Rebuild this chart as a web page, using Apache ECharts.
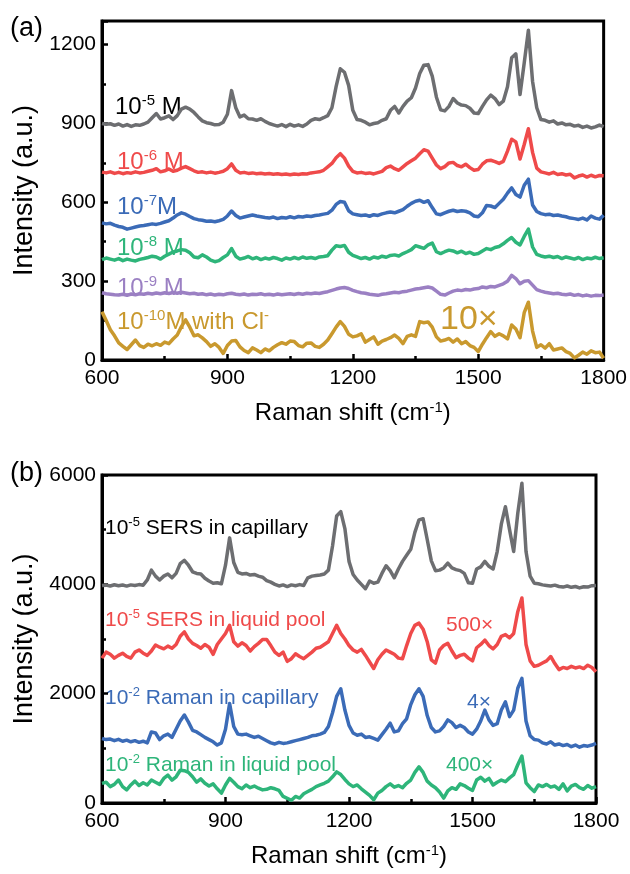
<!DOCTYPE html>
<html>
<head>
<meta charset="utf-8">
<script src="https://cdn.jsdelivr.net/npm/echarts@6/dist/echarts.min.js"></script>
<style>
  html, body { margin: 0; padding: 0; background: #fff; }
  #chart { width: 630px; height: 874px; }
</style>
</head>
<body>
<div id="chart"></div>
<script>
var FONT = "'Liberation Sans', Arial, sans-serif";

// Raman shift (cm-1), shared by both panels
var shift = [600,610,620,630,640,650,660,670,680,690,700,710,720,730,740,750,760,770,780,790,
  800,810,820,830,840,850,860,870,880,890,900,910,920,930,940,950,960,970,980,990,
  1000,1010,1020,1030,1040,1050,1060,1070,1080,1090,1100,1110,1120,1130,1140,1150,1160,1170,1180,1190,
  1200,1210,1220,1230,1240,1250,1260,1270,1280,1290,1300,1310,1320,1330,1340,1350,1360,1370,1380,1390,
  1400,1410,1420,1430,1440,1450,1460,1470,1480,1490,1500,1510,1520,1530,1540,1550,1560,1570,1580,1590,
  1600,1610,1620,1630,1640,1650,1660,1670,1680,1690,1700,1710,1720,1730,1740,1750,1760,1770,1780,1790,1800];

// panel (a)
var a1e5 = [900,897,899,893,898,890,896,889,895,893, 898,905,922,938,917,922,929,915,930,955,
  962,955,942,925,910,903,900,895,896,905, 935,1025,960,925,932,918,917,912,918,908,
  900,895,890,896,888,897,890,895,889,898, 912,918,915,922,930,960,1040,1108,1095,1045,
  950,915,912,905,895,900,903,912,918,950, 965,940,965,985,998,1035,1090,1122,1124,1080,
  1000,952,948,965,995,978,970,968,958,940, 938,965,990,1008,995,972,985,1040,1150,1165,
  1010,1130,1255,1060,960,915,912,905,910,898, 902,895,897,890,893,885,890,883,887,894, 888];
var a1e6 = [715,712,716,710,714,709,713,711,716,712, 714,718,722,728,716,720,727,718,722,730,
  736,728,720,714,716,712,715,711,714,718, 728,746,722,712,714,710,712,709,711,708,
  710,707,709,706,708,705,708,706,709,708, 712,714,716,722,735,748,770,785,768,738,
  718,712,714,710,712,708,713,718,732,738, 728,722,735,748,758,768,785,800,795,768,
  742,728,736,750,752,740,735,745,732,722, 725,745,758,760,755,748,756,795,840,830,
  765,820,880,790,730,716,712,708,714,706, 709,704,707,693,700,704,696,703,697,702, 701];
var a1e7 = [522,518,520,513,508,505,498,502,506,510, 512,515,518,516,520,525,530,540,552,560,
  555,546,538,534,532,528,529,526,530,535, 548,567,550,540,544,548,552,548,545,542,
  540,544,538,542,540,545,541,546,544,548, 546,550,552,555,558,570,592,603,600,568,
  556,553,550,552,547,553,550,556,560,563, 560,566,572,585,596,604,608,600,606,580,
  556,553,560,566,570,565,568,566,560,548, 545,560,588,586,580,596,612,635,655,630,
  620,665,688,590,565,557,553,555,550,552, 548,545,540,538,535,540,533,548,540,536, 551];
var a1e8 = [382,388,384,380,386,378,384,380,377,383, 386,390,395,392,384,395,403,411,415,420,
  418,408,392,389,400,392,380,374,378,390, 400,424,395,384,388,394,385,390,382,388,
  384,390,386,380,388,384,390,385,392,387, 390,386,392,394,397,418,435,432,436,410,
  398,392,386,390,384,392,388,395,391,398, 400,396,405,412,420,435,430,425,438,445,
  412,405,412,418,415,408,414,405,410,402, 405,415,424,420,428,432,442,455,466,448,
  438,470,498,430,402,396,392,395,390,394, 386,392,388,384,390,382,388,385,391,386, 389];
var a1e9 = [256,252,250,248,247,250,246,251,248,252, 250,254,251,255,252,256,253,257,254,258,
  255,252,254,250,252,248,251,247,250,248, 252,254,250,248,251,247,250,249,252,248,
  250,247,251,248,250,252,249,253,250,254, 252,255,253,257,260,265,270,274,276,272,
  265,260,256,254,250,248,246,250,252,255, 258,256,260,262,266,270,272,275,278,274,
  262,250,247,255,262,266,264,268,266,270, 272,278,275,280,278,284,290,300,322,310,
  290,300,302,285,268,262,258,255,252,254, 250,248,251,246,249,244,247,243,246,245, 247];
var a1e10 = [184,150,115,92,65,52,40,58,76,55, 48,60,54,62,56,68,62,80,95,127,
  153,125,92,96,84,70,52,62,48,25, 55,72,74,50,36,28,46,38,28,42,
  35,48,58,66,60,72,70,55,50,64, 65,52,48,60,76,100,125,146,128,98,
  88,92,100,68,78,88,60,72,78,85, 95,82,62,90,96,90,146,142,145,125,
  88,72,76,82,68,80,62,70,55,48, 32,60,85,108,90,100,92,80,133,118,
  85,180,220,110,48,58,45,62,38,42, 46,32,25,8,18,30,22,35,28,30, 7];

// panel (b)
var sersCap = [3980,3985,3970,3992,3975,3988,3968,3990,3978,3995, 3985,4080,4260,4150,4080,4150,4190,4120,4200,4380,
  4440,4350,4230,4200,4190,4110,4060,4020,4030,4010, 4350,4850,4400,4220,4190,4200,4170,4180,4150,4130,
  4070,4040,4000,3970,3990,3960,3990,3975,3995,3980, 4120,4150,4160,4170,4190,4260,4700,5250,5330,5020,
  4420,4180,4080,4000,3920,4060,4020,4040,4200,4340, 4250,4120,4280,4420,4530,4640,4950,5180,5200,4820,
  4430,4250,4260,4300,4390,4300,4270,4250,4200,4030, 4020,4280,4320,4420,4330,4280,4600,5100,5420,5000,
  4600,5300,5850,4600,4150,4020,4010,3990,3980,3970, 3985,3960,3950,3970,3945,3960,3935,3955,3950,3975, 3980];
var sersPool = [2650,2760,2720,2650,2700,2740,2680,2650,2760,2800, 2740,2700,2780,2890,2850,2820,2870,2830,2900,3050,
  3130,3000,2920,2880,2830,2900,2850,2720,2900,3000, 3100,3250,2950,2870,2930,2880,2780,2860,2920,2990,
  2990,2880,2760,2700,2760,2590,2640,2730,2680,2640, 2700,2760,2830,2850,2900,2950,3100,3250,3100,3000,
  2880,2800,2760,2810,2700,2580,2460,2620,2720,2800, 2760,2720,2650,2640,2880,3100,3250,3290,3180,2950,
  2620,2560,2800,2880,2920,2780,2660,2700,2720,2650, 2600,2840,2900,2980,2880,2820,2900,3050,3080,3020,
  3100,3500,3750,2900,2600,2500,2520,2560,2600,2680, 2550,2440,2480,2460,2500,2470,2490,2460,2520,2480, 2400];
var ramanCap = [1180,1160,1170,1140,1165,1130,1150,1120,1140,1110, 1130,1100,1300,1280,1160,1230,1260,1200,1350,1500,
  1610,1480,1330,1300,1250,1200,1160,1120,1060,1100, 1350,1820,1400,1260,1250,1260,1230,1200,1220,1180,
  1140,1100,1080,1110,1090,1100,1120,1140,1160,1180, 1200,1230,1240,1260,1290,1400,1650,1950,2090,1700,
  1420,1280,1240,1260,1200,1210,1180,1150,1250,1350, 1460,1300,1320,1450,1540,1800,1980,2090,1950,1600,
  1380,1300,1320,1400,1520,1470,1380,1420,1380,1300, 1260,1350,1500,1700,1520,1420,1450,1700,1850,1580,
  1700,2100,2280,1500,1230,1160,1150,1100,1080,1120, 1060,1080,1050,1070,1030,1060,1020,1050,1040,1060, 1090];
var ramanPool = [360,380,300,340,420,300,240,330,400,320, 370,330,420,380,340,450,510,420,480,600,
  590,560,480,380,440,360,310,350,260,180, 330,450,380,300,260,330,280,310,270,240,
  250,280,260,230,120,85,50,120,90,170, 210,250,300,330,360,400,480,570,520,430,
  350,300,330,260,200,140,60,180,230,300, 350,290,320,280,360,420,560,660,560,400,
  330,280,200,90,220,280,250,350,320,270, 230,420,470,400,450,330,380,420,390,460,
  520,700,860,370,280,210,330,300,340,290, 310,250,350,220,310,340,280,250,320,270, 300];

var labelsA = ['10{s|-5} M', '10{s|-6} M', '10{s|-7}M', '10{s|-8} M', '10{s|-9} M', '10{s|-10}M with Cl{s|-}'];
var labelsB = ['10{s|-5} SERS in capillary', '10{s|-5} SERS in liquid pool', '10{s|-2} Raman in capillary', '10{s|-2} Raman in liquid pool'];
var factorsB = ['500×', '4×', '400×'];

var GRAY = '#6d6e71', RED = '#ef4a4a', BLUE = '#3b6bb7', GREEN = '#2eb57a', PURPLE = '#9b80c3', GOLD = '#c9992e';

var chart = echarts.init(document.getElementById('chart'));

function line(ys, color, idx) {
  return {
    type: 'line',
    xAxisIndex: idx,
    yAxisIndex: idx,
    data: shift.map(function (x, i) { return [x, ys[i]]; }),
    showSymbol: false,
    silent: true,
    lineStyle: { width: 3.5, color: color, join: 'round' },
    itemStyle: { color: color }
  };
}

function plain(v) { return String(v); }

function xAxis(idx) {
  return {
    type: 'value', gridIndex: idx, min: 600, max: 1800, interval: 300,
    axisLine: { lineStyle: { color: '#000', width: 3 } },
    axisTick: { inside: true, length: 6, lineStyle: { width: 2.5, color: '#000' } },
    minorTick: { show: true, splitNumber: 2, length: 4, lineStyle: { width: 2.5, color: '#000' } },
    splitLine: { show: false },
    axisLabel: { fontSize: 21, color: '#000', fontFamily: FONT, margin: 8, formatter: plain },
    name: 'Raman shift (cm{s|-1})',
    nameLocation: 'middle', nameGap: 40,
    nameTextStyle: { fontSize: 24, color: '#000', fontFamily: FONT,
      rich: { s: { fontSize: 15, fontFamily: FONT, padding: [0, 0, 12, 0] } } }
  };
}

function yAxis(idx, max, interval) {
  return {
    type: 'value', gridIndex: idx, min: 0, max: max, interval: interval,
    axisLine: { lineStyle: { color: '#000', width: 3 } },
    axisTick: { inside: true, length: 6, lineStyle: { width: 2.5, color: '#000' } },
    minorTick: { show: true, splitNumber: 2, length: 4, lineStyle: { width: 2.5, color: '#000' } },
    splitLine: { show: false },
    axisLabel: { fontSize: 21, color: '#000', fontFamily: FONT, margin: 6, formatter: plain,
      showMaxLabel: max % interval === 0 },
    name: 'Intensity (a.u.)',
    nameLocation: 'middle', nameGap: 52,
    nameTextStyle: { fontSize: 27, color: '#000', fontFamily: FONT }
  };
}

function label(text, x, y, color, size) {
  return {
    type: 'text', x: x, y: y, silent: true,
    style: {
      text: text, fill: color, fontSize: size, fontFamily: FONT, verticalAlign: 'middle',
      rich: { s: { fontSize: Math.round(size * 0.62), fontFamily: FONT, fill: color, padding: [0, 0, Math.round(size * 0.5), 0] } }
    }
  };
}

var option = {
  animation: false,
  grid: [
    { left: 102, top: 21, width: 504, height: 339, show: true, borderColor: '#000', borderWidth: 3 },
    { left: 102, top: 475, width: 494, height: 328, show: true, borderColor: '#000', borderWidth: 3 }
  ],
  xAxis: [xAxis(0), xAxis(1)],
  yAxis: [yAxis(0, 1290, 300), yAxis(1, 6000, 2000)],
  series: [
    line(a1e10, GOLD, 0), line(a1e9, PURPLE, 0), line(a1e8, GREEN, 0),
    line(a1e7, BLUE, 0), line(a1e6, RED, 0), line(a1e5, GRAY, 0),
    line(ramanPool, GREEN, 1), line(ramanCap, BLUE, 1), line(sersPool, RED, 1), line(sersCap, GRAY, 1)
  ],
  graphic: [
    { type: 'text', x: 10, y: 29, style: { text: '(a)', fontSize: 27, fontFamily: FONT, fill: '#000', verticalAlign: 'middle' } },
    { type: 'text', x: 10, y: 474, style: { text: '(b)', fontSize: 27, fontFamily: FONT, fill: '#000', verticalAlign: 'middle' } },
    label(labelsA[0], 115, 107, '#000', 24),
    label(labelsA[1], 117, 162, RED, 24),
    label(labelsA[2], 117, 207, BLUE, 24),
    label(labelsA[3], 117, 248, GREEN, 24),
    label(labelsA[4], 117, 288, PURPLE, 24),
    label(labelsA[5], 117, 322, GOLD, 24),
    label('10×', 440, 320, GOLD, 34),
    label(labelsB[0], 105, 528, '#000', 21),
    label(labelsB[1], 105, 620, RED, 21),
    label(labelsB[2], 105, 698, BLUE, 21),
    label(labelsB[3], 105, 765, GREEN, 21),
    label(factorsB[0], 446, 625, RED, 21),
    label(factorsB[1], 467, 702, BLUE, 21),
    label(factorsB[2], 446, 765, GREEN, 21)
  ]
};

chart.setOption(option);
</script>
</body>
</html>
